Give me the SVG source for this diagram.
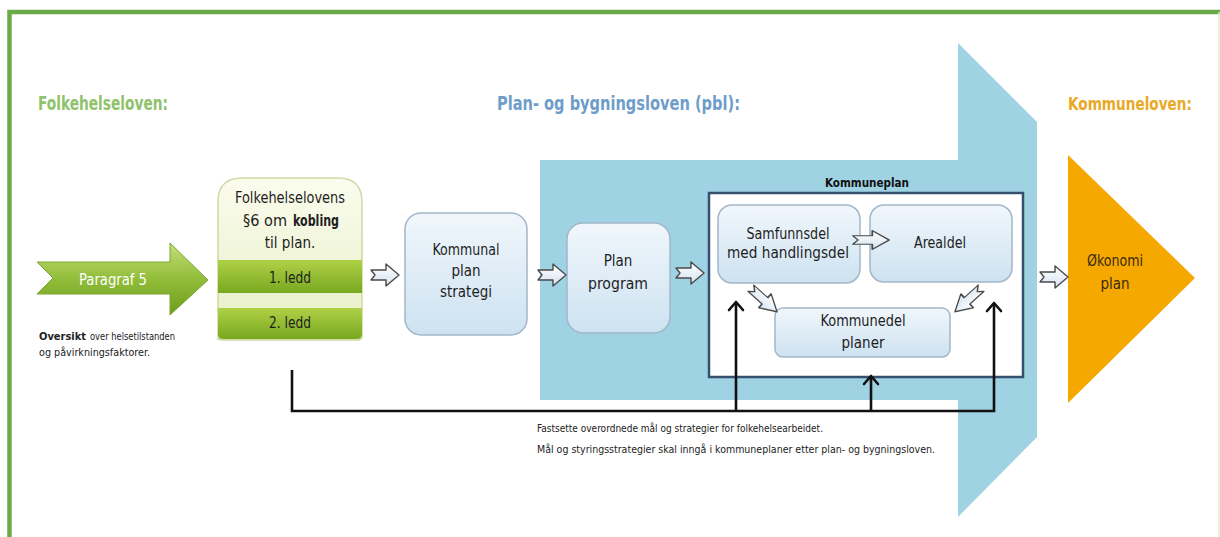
<svg xmlns="http://www.w3.org/2000/svg" width="1220" height="537" viewBox="0 0 1220 537">
<defs>
<style>
text{font-family:"Liberation Sans Narrow","DejaVu Sans Condensed","Liberation Sans",sans-serif;}
.hdr{font-size:19px;font-weight:bold;}
.lbl{font-size:15px;fill:#1e1e1e;text-anchor:middle;}
.small{font-size:10.5px;fill:#222;}
.node{stroke:#a3b6c8;stroke-width:1.5;fill:url(#gNode);}
.harrow{fill:url(#gArrow);stroke:#4a4a4a;stroke-width:1.4;stroke-linejoin:round;}
.conn{fill:none;stroke:#111;stroke-width:2.6;}
</style>
<linearGradient id="gNode" x1="0" y1="0" x2="0" y2="1">
<stop offset="0" stop-color="#f1f7fc"/><stop offset="1" stop-color="#cde2f1"/>
</linearGradient>
<linearGradient id="gArrow" x1="0" y1="0" x2="0" y2="1">
<stop offset="0" stop-color="#ffffff"/><stop offset="1" stop-color="#d5e3f0"/>
</linearGradient>
<linearGradient id="gBox" x1="0" y1="0" x2="0" y2="1">
<stop offset="0" stop-color="#fbfcee"/><stop offset="1" stop-color="#e6eec4"/>
</linearGradient>
<linearGradient id="gBar" x1="0" y1="0" x2="0" y2="1">
<stop offset="0" stop-color="#afd046"/><stop offset="1" stop-color="#78a820"/>
</linearGradient>
<linearGradient id="gPara" x1="0" y1="0" x2="0" y2="1">
<stop offset="0" stop-color="#c4de7a"/><stop offset="0.5" stop-color="#92bd3a"/><stop offset="1" stop-color="#6c9c1c"/>
</linearGradient>
<path id="ha" d="M-14,-5 H1 V-11 L14,0 L1,11 V5 H-14 L-10,0 Z"/>
<marker id="open" viewBox="-10 -10 20 20" markerWidth="20" markerHeight="20" markerUnits="userSpaceOnUse" refX="0" refY="0" orient="auto">
<path d="M-8,-7 L0,0 L-8,7" fill="none" stroke="#111" stroke-width="2.6" stroke-linecap="round" stroke-linejoin="round"/>
</marker>
</defs>

<rect width="1220" height="537" fill="#ffffff"/>
<!-- frame -->
<path d="M9.5,537 V12 H1220" fill="none" stroke="#6aaa48" stroke-width="4.5"/>
<line x1="1219" y1="12" x2="1219" y2="537" stroke="#dcefcf" stroke-width="1.5"/>

<!-- big blue arrow -->
<polygon points="540,160 958,160 958,43 1037,122 1037,437 958,517 958,400 540,400" fill="#9fd2e3"/>

<!-- headers -->
<text x="38" y="110" class="hdr" fill="#8fc26b" textLength="130" lengthAdjust="spacingAndGlyphs">Folkehelseloven:</text>
<text x="497" y="110" class="hdr" fill="#6f9dc9" textLength="243" lengthAdjust="spacingAndGlyphs">Plan- og bygningsloven (pbl):</text>
<text x="1068" y="110" class="hdr" font-size="17" fill="#e9a825" textLength="124" lengthAdjust="spacingAndGlyphs" style="font-size:17px">Kommuneloven:</text>

<!-- Paragraf 5 -->
<g id="paragraf5">
<polygon points="37,262 170,262 170,243 208,280 170,315 170,294 37,294 53,278" fill="url(#gPara)" stroke="#7ea62e" stroke-width="1"/>
<text x="113" y="285" font-size="16" fill="#ffffff" text-anchor="middle" textLength="68" lengthAdjust="spacingAndGlyphs">Paragraf 5</text>
</g>
<g id="oversikt">
<text x="39" y="340" class="small" font-weight="bold" textLength="47" lengthAdjust="spacingAndGlyphs">Oversikt</text>
<text x="90" y="340" class="small" textLength="85" lengthAdjust="spacingAndGlyphs">over helsetilstanden</text>
<text x="39" y="356" class="small" textLength="111" lengthAdjust="spacingAndGlyphs">og påvirkningsfaktorer.</text>
</g>

<!-- Folkehelselovens §6 -->
<g id="folkehelse6">
<path d="M218,340 V202 Q218,178 242,178 H338 Q362,178 362,202 V336 Q362,340 358,340 H222 Q218,340 218,336 Z" fill="url(#gBox)" stroke="#cfd9a4" stroke-width="1.5"/>
<text x="290" y="203" class="lbl" textLength="110" lengthAdjust="spacingAndGlyphs">Folkehelselovens</text>
<text x="243" y="226" class="lbl" style="text-anchor:start" textLength="44" lengthAdjust="spacingAndGlyphs">§6 om</text>
<text x="293" y="226" class="lbl" style="text-anchor:start" font-weight="bold" textLength="46" lengthAdjust="spacingAndGlyphs">kobling</text>
<text x="290" y="248" class="lbl">til plan.</text>
<rect x="218" y="260" width="144" height="33" fill="url(#gBar)"/>
<text x="290" y="283" class="lbl" textLength="42" lengthAdjust="spacingAndGlyphs">1. ledd</text>
<path d="M218,308 H362 V334 Q362,339 357,339 H223 Q218,339 218,334 Z" fill="url(#gBar)"/>
<text x="290" y="328" class="lbl" textLength="42" lengthAdjust="spacingAndGlyphs">2. ledd</text>
</g>

<!-- Kommunal plan strategi -->
<g id="kommunal">
<rect x="405" y="213" width="122" height="122" rx="16" class="node"/>
<text x="466" y="255" class="lbl" textLength="67" lengthAdjust="spacingAndGlyphs">Kommunal</text>
<text x="466" y="276" class="lbl">plan</text>
<text x="466" y="297" class="lbl" textLength="52" lengthAdjust="spacingAndGlyphs">strategi</text>
</g>

<!-- Plan program -->
<g id="planprogram">
<rect x="567" y="223" width="103" height="110" rx="16" class="node"/>
<text x="618" y="266" class="lbl">Plan</text>
<text x="618" y="289" class="lbl" textLength="60" lengthAdjust="spacingAndGlyphs">program</text>
</g>

<!-- Kommuneplan -->
<g id="kommuneplan">
<rect x="709" y="193" width="314" height="184" fill="#ffffff" stroke="#34506e" stroke-width="2.5"/>
<text x="867" y="187" font-size="13" font-weight="bold" fill="#111" text-anchor="middle" textLength="84" lengthAdjust="spacingAndGlyphs">Kommuneplan</text>
</g>
<g id="samfunnsdel">
<rect x="718" y="205" width="142" height="78" rx="14" class="node"/>
<text x="788" y="239" class="lbl" textLength="83" lengthAdjust="spacingAndGlyphs">Samfunnsdel</text>
<text x="788" y="258" class="lbl" textLength="122" lengthAdjust="spacingAndGlyphs">med handlingsdel</text>
</g>
<g id="arealdel">
<rect x="870" y="205" width="142" height="77" rx="14" class="node"/>
<text x="940" y="248" class="lbl" textLength="52" lengthAdjust="spacingAndGlyphs">Arealdel</text>
</g>
<g id="kommunedel">
<rect x="775" y="308" width="175" height="49" rx="8" class="node"/>
<text x="863" y="326" class="lbl" textLength="85" lengthAdjust="spacingAndGlyphs">Kommunedel</text>
<text x="863" y="348" class="lbl">planer</text>
</g>

<!-- Økonomi plan -->
<g id="okonomi">
<polygon points="1068,155 1195,278 1068,403" fill="#f5a800"/>
<text x="1115" y="266" font-size="15" fill="#3a2a10" text-anchor="middle" textLength="56" lengthAdjust="spacingAndGlyphs">Økonomi</text>
<text x="1115" y="289" font-size="15" fill="#3a2a10" text-anchor="middle">plan</text>
</g>

<!-- connectors -->
<g id="connectors">
<use href="#ha" class="harrow" transform="translate(385,275)"/>
<use href="#ha" class="harrow" transform="translate(552,275)"/>
<use href="#ha" class="harrow" transform="translate(690,273)"/>
<use href="#ha" class="harrow" transform="translate(1054,277)"/>
<use href="#ha" class="harrow" transform="translate(871,240) scale(1.3,0.85)"/>
<use href="#ha" class="harrow" transform="translate(764,300) rotate(42) scale(1.25,0.85)"/>
<use href="#ha" class="harrow" transform="translate(968,300) rotate(138) scale(1.25,0.85)"/>
<path class="conn" d="M292,370 V411 H994 V303" marker-end="url(#open)"/>
<path class="conn" d="M736,411 V302" marker-end="url(#open)"/>
<path class="conn" d="M871,411 V376" marker-end="url(#open)"/>
</g>

<g id="note">
<text x="537" y="432" class="small" textLength="286" lengthAdjust="spacingAndGlyphs">Fastsette overordnede mål og strategier for folkehelsearbeidet.</text>
<text x="537" y="453" class="small" textLength="398" lengthAdjust="spacingAndGlyphs">Mål og styringsstrategier skal inngå i kommuneplaner etter plan- og bygningsloven.</text>
</g>
</svg>
